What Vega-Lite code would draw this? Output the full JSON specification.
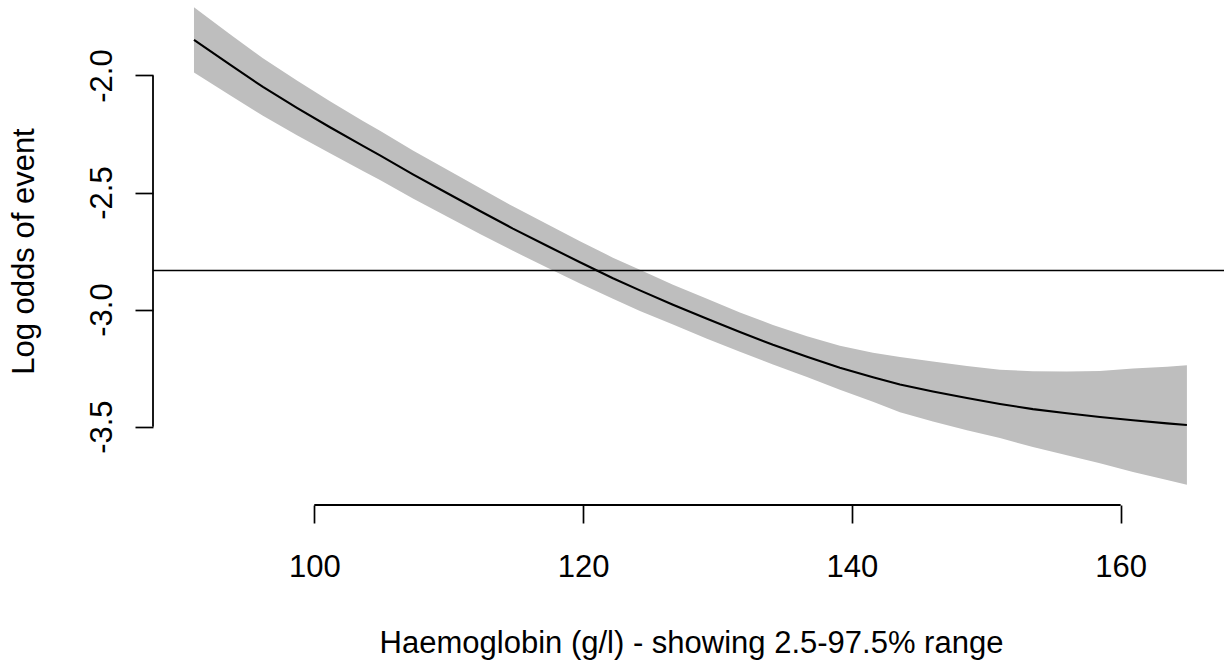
{
  "$schema": "https://vega.github.io/schema/vega-lite/v6.json",
  "width": 1071,
  "height": 505,
  "autosize": {"type": "none"},
  "padding": {"left": 153, "top": 0, "right": 0, "bottom": 161},
  "background": "white",
  "config": {"view": {"stroke": null}, "font": "Liberation Sans"},
  "datasets": {
    "curve": [
      {"haemoglobin": 91.05, "fit": -1.848, "lower": -1.987, "upper": -1.709},
      {"haemoglobin": 93.73, "fit": -1.954, "lower": -2.084, "upper": -1.824},
      {"haemoglobin": 96.18, "fit": -2.049, "lower": -2.172, "upper": -1.926},
      {"haemoglobin": 98.71, "fit": -2.138, "lower": -2.255, "upper": -2.021},
      {"haemoglobin": 101.17, "fit": -2.221, "lower": -2.332, "upper": -2.110},
      {"haemoglobin": 103.62, "fit": -2.301, "lower": -2.408, "upper": -2.194},
      {"haemoglobin": 104.89, "fit": -2.341, "lower": -2.446, "upper": -2.236},
      {"haemoglobin": 107.34, "fit": -2.422, "lower": -2.525, "upper": -2.320},
      {"haemoglobin": 109.87, "fit": -2.502, "lower": -2.602, "upper": -2.402},
      {"haemoglobin": 112.33, "fit": -2.579, "lower": -2.677, "upper": -2.481},
      {"haemoglobin": 114.78, "fit": -2.654, "lower": -2.749, "upper": -2.559},
      {"haemoglobin": 117.31, "fit": -2.727, "lower": -2.820, "upper": -2.634},
      {"haemoglobin": 119.77, "fit": -2.798, "lower": -2.888, "upper": -2.708},
      {"haemoglobin": 122.22, "fit": -2.866, "lower": -2.954, "upper": -2.778},
      {"haemoglobin": 124.23, "fit": -2.918, "lower": -3.006, "upper": -2.830},
      {"haemoglobin": 126.69, "fit": -2.979, "lower": -3.064, "upper": -2.894},
      {"haemoglobin": 129.22, "fit": -3.039, "lower": -3.124, "upper": -2.954},
      {"haemoglobin": 131.67, "fit": -3.096, "lower": -3.180, "upper": -3.012},
      {"haemoglobin": 134.13, "fit": -3.150, "lower": -3.234, "upper": -3.066},
      {"haemoglobin": 136.66, "fit": -3.201, "lower": -3.288, "upper": -3.114},
      {"haemoglobin": 139.11, "fit": -3.248, "lower": -3.342, "upper": -3.154},
      {"haemoglobin": 141.57, "fit": -3.289, "lower": -3.394, "upper": -3.184},
      {"haemoglobin": 143.58, "fit": -3.320, "lower": -3.438, "upper": -3.202},
      {"haemoglobin": 146.03, "fit": -3.350, "lower": -3.478, "upper": -3.222},
      {"haemoglobin": 148.56, "fit": -3.378, "lower": -3.515, "upper": -3.241},
      {"haemoglobin": 151.02, "fit": -3.403, "lower": -3.549, "upper": -3.257},
      {"haemoglobin": 153.47, "fit": -3.425, "lower": -3.587, "upper": -3.263},
      {"haemoglobin": 156.00, "fit": -3.443, "lower": -3.622, "upper": -3.264},
      {"haemoglobin": 158.46, "fit": -3.459, "lower": -3.656, "upper": -3.262},
      {"haemoglobin": 160.92, "fit": -3.473, "lower": -3.694, "upper": -3.252},
      {"haemoglobin": 163.45, "fit": -3.486, "lower": -3.728, "upper": -3.244},
      {"haemoglobin": 164.93, "fit": -3.493, "lower": -3.748, "upper": -3.238}
    ],
    "ref": [{"log_odds": -2.833}]
  },
  "layer": [
    {
      "data": {"name": "curve"},
      "mark": {"type": "area", "color": "#BEBEBE", "opacity": 1},
      "encoding": {
        "x": {
          "field": "haemoglobin",
          "type": "quantitative",
          "scale": {"domain": [88.0, 167.69], "nice": false, "zero": false},
          "axis": {
            "values": [100, 120, 140, 160],
            "format": "d",
            "domain": false,
            "grid": false,
            "ticks": true,
            "tickSize": 18,
            "tickWidth": 1.7,
            "tickColor": "black",
            "labelFont": "Liberation Sans",
            "labelFontSize": 31,
            "labelColor": "black",
            "labelPadding": 29,
            "labelFlush": false,
            "labelOverlap": false,
            "title": "Haemoglobin (g/l) - showing 2.5-97.5% range",
            "titleFont": "Liberation Sans",
            "titleFontSize": 31,
            "titleFontWeight": "normal",
            "titleColor": "black",
            "titleBaseline": "alphabetic",
            "titleX": 538,
            "titleY": 147
          }
        },
        "y": {
          "field": "lower",
          "type": "quantitative",
          "scale": {"domain": [-3.8347, -1.6775], "nice": false, "zero": false},
          "axis": {
            "values": [-2, -2.5, -3, -3.5],
            "labelExpr": "replace(format(datum.value, '.1f'), '\u2212', '-')",
            "domain": false,
            "grid": false,
            "ticks": true,
            "tickSize": 18,
            "tickWidth": 1.7,
            "tickColor": "black",
            "labelAngle": 270,
            "labelAlign": "center",
            "labelBaseline": "bottom",
            "labelFont": "Liberation Sans",
            "labelFontSize": 31,
            "labelColor": "black",
            "labelPadding": 17,
            "labelFlush": false,
            "labelOverlap": false,
            "title": "Log odds of event",
            "titleFont": "Liberation Sans",
            "titleFontSize": 31,
            "titleFontWeight": "normal",
            "titleColor": "black",
            "titleAngle": 270,
            "titleAlign": "center",
            "titleBaseline": "alphabetic",
            "titleX": -120,
            "titleY": 251
          }
        },
        "y2": {"field": "upper"}
      }
    },
    {
      "data": {"name": "curve"},
      "mark": {"type": "line", "color": "black", "strokeWidth": 2.1},
      "encoding": {
        "x": {"field": "haemoglobin", "type": "quantitative"},
        "y": {"field": "fit", "type": "quantitative"}
      }
    },
    {
      "data": {"name": "ref"},
      "mark": {"type": "rule", "color": "black", "strokeWidth": 1.7},
      "encoding": {
        "y": {"field": "log_odds", "type": "quantitative"}
      }
    },
    {
      "data": {"name": "ref"},
      "mark": {"type": "rule", "color": "black", "strokeWidth": 1.8},
      "encoding": {
        "x": {"datum": 100},
        "x2": {"datum": 160},
        "y": {"datum": -3.8347}
      }
    },
    {
      "data": {"name": "ref"},
      "mark": {"type": "rule", "color": "black", "strokeWidth": 1.8},
      "encoding": {
        "y": {"datum": -2},
        "y2": {"datum": -3.5},
        "x": {"datum": 88.0}
      }
    }
  ]
}
